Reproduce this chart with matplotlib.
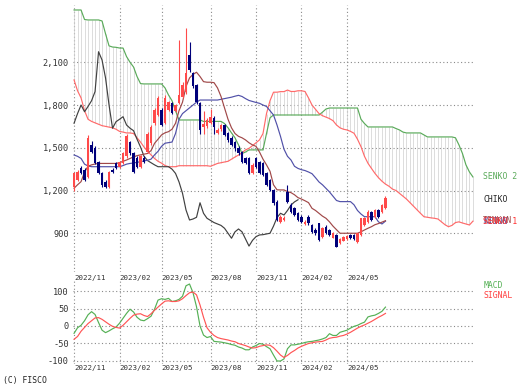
import numpy as np
import matplotlib
matplotlib.use("Agg")
import matplotlib.pyplot as plt

# weekly candles (index 0 = first week of 2022/11)
opens = [1225, 1274, 1357, 1344, 1295, 1520, 1500, 1400, 1322, 1260,
         1225, 1345, 1390, 1367, 1390, 1440, 1540, 1460, 1430, 1367,
         1430, 1470, 1530, 1674, 1730, 1765, 1674, 1765, 1814, 1760,
         1814, 1857, 1890, 2150, 2025, 1940, 1814, 1645, 1650, 1674,
         1710, 1604, 1630, 1660, 1604, 1570, 1543, 1500, 1472, 1428,
         1428, 1322, 1428, 1402, 1393, 1322, 1274, 1204, 1122, 981,
         990, 1192, 1098, 1075, 1040, 1016, 965, 1016, 958, 925,
         970, 876, 946, 923, 870, 886, 830, 848, 858, 888,
         888, 842, 888, 958, 981, 1051, 1016, 1063, 1051, 1075]
closes = [1322, 1332, 1323, 1274, 1570, 1470, 1390, 1322, 1237, 1225,
          1330, 1330, 1357, 1400, 1460, 1580, 1460, 1330, 1367, 1440,
          1400, 1600, 1645, 1765, 1850, 1660, 1850, 1820, 1743, 1800,
          1870, 1940, 2025, 2045, 1930, 1820, 1625, 1670, 1695, 1715,
          1645, 1625, 1660, 1590, 1555, 1519, 1496, 1460, 1402, 1393,
          1322, 1380, 1367, 1322, 1309, 1237, 1204, 1110, 993, 1016,
          1010, 1122, 1051, 1028, 993, 981, 981, 970, 911, 900,
          853, 935, 900, 888, 905, 806, 858, 872, 881, 865,
          858, 900, 1005, 1005, 1051, 993, 1063, 1016, 1098, 1145]
highs = [1330, 1345, 1370, 1355, 1590, 1545, 1510, 1410, 1330, 1275,
         1340, 1355, 1400, 1410, 1470, 1600, 1550, 1470, 1440, 1450,
         1440, 1610, 1660, 1780, 1860, 1780, 1870, 1830, 1820, 1810,
         2256, 1960, 2340, 2245, 2035, 1950, 1820, 1760, 1710, 1775,
         1720, 1640, 1670, 1670, 1610, 1580, 1550, 1510, 1480, 1435,
         1435, 1390, 1435, 1410, 1400, 1330, 1280, 1210, 1130, 1025,
         1020, 1240, 1110, 1085, 1050, 1025, 990, 1025, 965, 935,
         975, 945, 955, 930, 910, 895, 865, 880, 888, 895,
         892, 905, 1010, 1012, 1060, 1058, 1070, 1070, 1105, 1162]
lows = [1200, 1265, 1315, 1265, 1285, 1460, 1385, 1315, 1225, 1215,
        1215, 1320, 1350, 1360, 1385, 1430, 1450, 1320, 1360, 1360,
        1395, 1460, 1520, 1660, 1720, 1650, 1665, 1760, 1735, 1750,
        1805, 1850, 1880, 2030, 1920, 1810, 1600, 1600, 1640, 1665,
        1600, 1595, 1620, 1580, 1540, 1510, 1480, 1450, 1395, 1385,
        1315, 1315, 1360, 1315, 1300, 1230, 1195, 1100, 985, 975,
        985, 1110, 1045, 1020, 985, 975, 960, 960, 905, 890,
        845, 870, 895, 880, 865, 800, 825, 845, 855, 860,
        852, 835, 880, 950, 975, 985, 1010, 1010, 1045, 1070]

tenkan = [1216, 1240, 1262, 1330, 1370, 1380, 1386, 1390, 1390, 1390,
          1390, 1390, 1390, 1395, 1405, 1414, 1425, 1435, 1445, 1450,
          1455, 1460, 1480, 1531, 1560, 1590, 1605, 1613, 1630, 1672,
          1760, 1820, 1930, 1990, 2015, 2030, 2000, 1964, 1960, 1960,
          1957, 1920, 1860, 1780, 1700, 1640, 1600, 1580, 1570, 1555,
          1535, 1520, 1510, 1470, 1420, 1380, 1335, 1240, 1205, 1204,
          1204, 1192, 1185, 1170, 1150, 1140, 1128, 1115, 1075, 1060,
          1040, 1020, 1005, 980, 950, 925, 900, 900, 900, 900,
          900, 900, 910, 923, 935, 946, 960, 968, 978, 988]
kijun = [1449, 1440, 1425, 1385, 1372, 1367, 1367, 1367, 1367, 1367,
         1367, 1367, 1367, 1367, 1375, 1385, 1390, 1393, 1398, 1402,
         1408, 1412, 1420, 1450, 1475, 1510, 1532, 1536, 1540, 1600,
         1700, 1740, 1760, 1780, 1800, 1820, 1835, 1835, 1835, 1835,
         1835, 1835, 1840, 1845, 1850, 1855, 1862, 1868, 1860, 1845,
         1832, 1825, 1818, 1812, 1800, 1790, 1760, 1730, 1660, 1580,
         1490, 1440, 1414, 1370, 1355, 1346, 1340, 1330, 1318, 1290,
         1260, 1240, 1215, 1190, 1160, 1130, 1122, 1122, 1122, 1122,
         1100, 1060, 1035, 1016, 1016, 1016, 1016, 980, 965, 985]
senko1 = [1976, 1900, 1850, 1760, 1700, 1685, 1675, 1665, 1655, 1650,
          1645, 1640, 1630, 1615, 1610, 1604, 1604, 1600, 1570, 1540,
          1505, 1475, 1450, 1425, 1405, 1392, 1375, 1367, 1367, 1367,
          1374, 1374, 1374, 1374, 1374, 1374, 1374, 1374, 1374, 1370,
          1380, 1390, 1395, 1400, 1405, 1420, 1435, 1449, 1465, 1485,
          1496, 1515, 1535, 1555, 1600, 1740, 1830, 1890, 1890, 1894,
          1894, 1905, 1895, 1895, 1900, 1900, 1895, 1850, 1800, 1770,
          1740, 1725, 1715, 1705, 1690, 1660, 1640, 1630, 1625, 1615,
          1602, 1560, 1508, 1440, 1391, 1355, 1320, 1290, 1265, 1245,
          1230, 1210, 1200, 1180, 1160, 1140, 1115, 1090, 1065, 1040,
          1016, 1012, 1008, 1005, 1000, 980, 960, 946, 955, 975,
          980, 972, 965, 958, 985]
senko2 = [2467, 2467, 2467, 2400, 2397, 2397, 2397, 2397, 2390, 2300,
          2215, 2207, 2205, 2200, 2200, 2140, 2100, 2067, 2000, 1950,
          1948, 1948, 1948, 1948, 1948, 1948, 1920, 1870, 1830, 1760,
          1695, 1695, 1695, 1695, 1695, 1695, 1695, 1685, 1685, 1685,
          1685, 1685, 1685, 1670, 1640, 1604, 1570, 1520, 1460, 1470,
          1485, 1485, 1485, 1485, 1485, 1600, 1710, 1730, 1730, 1730,
          1730, 1730, 1730, 1730, 1730, 1730, 1730, 1730, 1730, 1730,
          1730, 1750, 1772, 1779, 1779, 1779, 1779, 1779, 1779, 1779,
          1779, 1779, 1700, 1670, 1646, 1646, 1646, 1646, 1646, 1646,
          1646, 1646, 1635, 1625, 1610, 1604, 1604, 1604, 1604, 1604,
          1590, 1576, 1576, 1576, 1576, 1576, 1576, 1576, 1576, 1570,
          1520, 1460, 1380, 1330, 1295]
chiko = [1672, 1740, 1800, 1753, 1790, 1830, 1894, 2174, 2116, 1990,
         1800, 1637, 1683, 1700, 1718, 1660, 1637, 1620, 1560, 1505,
         1440, 1410, 1395, 1380, 1367, 1367, 1367, 1367, 1350, 1320,
         1260, 1180, 1063, 993, 1000, 1012, 1114, 1040, 1005, 990,
         975, 965, 955, 935, 900, 865, 910, 930, 910, 860,
         810, 850, 876, 888, 890, 895, 900, 950, 1010, 1040,
         1028, 1060, 1098, 1120, 1135]

macd = [-21, -5, 2, 15, 32, 41, 33, 10, -12, -19,
        -14, -8, -3, 8, 22, 36, 48, 40, 25, 17,
        15, 21, 28, 48, 74, 78, 76, 79, 70, 72,
        76, 85, 115, 120, 95, 55, 0, -26, -33, -30,
        -44, -45, -46, -48, -50, -53, -55, -60, -63, -68,
        -68, -60, -56, -50, -52, -59, -65, -83, -100, -100,
        -94, -65, -54, -54, -52, -50, -47, -45, -44, -42,
        -40, -37, -33, -22, -27, -27, -18, -15, -12, -6,
        -1, 2, 7, 11, 26, 29, 31, 36, 42, 54]
signal = [-38, -30, -15, -4, 7, 15, 23, 24, 19, 12,
          5, -1, -4, -6, 2, 12, 22, 31, 34, 35,
          30, 27, 35, 45, 54, 63, 71, 72, 70, 70,
          72, 78, 87, 95, 97, 89, 60, 25, -5, -18,
          -27, -33, -36, -38, -40, -43, -45, -50, -53, -56,
          -60, -63, -62, -58, -56, -54, -55, -62, -72, -83,
          -90, -84, -76, -70, -63, -58, -54, -50, -48, -46,
          -45, -44, -40, -35, -33, -32, -29, -27, -23, -18,
          -12, -6, -1, 3, 8, 13, 19, 25, 30, 36]

date_labels = ["2022/11", "2023/02", "2023/05", "2023/08", "2023/11", "2024/02", "2024/05"]
date_weeks = [0, 13, 25, 39, 52, 65, 78]
price_ticks = [900, 1200, 1500, 1800, 2100]
macd_ticks = [-100, -50, 0, 50, 100]

UP = "#ff4a4a"
DOWN = "#00007a"
C_SENKO1 = "#ff6a6a"
C_SENKO2 = "#5aaa5a"
C_KIJUN = "#5050a8"
C_TENKAN = "#a04848"
C_CHIKO = "#404040"
GRID = "#8a8a8a"
TXT = "#333333"
LW = 0.85

plt.rcParams["font.family"] = "DejaVu Sans Mono"

W, H = 527, 392
fig = plt.figure(figsize=(W / 100, H / 100), dpi=100)
fig.patch.set_facecolor("white")

XMIN, XMAX = -0.3, 114.3
PMIN, PMAX = 628, 2502
ax = fig.add_axes([73 / W, 1 - 272 / H, 401 / W, 267 / H])
ax2 = fig.add_axes([73 / W, 1 - 364 / H, 401 / W, 83 / H])


def _style(a, yticks, fmt):
    a.set_xlim(XMIN, XMAX)
    for s in a.spines.values():
        s.set_visible(False)
    a.set_xticks([])
    a.set_yticks(yticks)
    a.set_yticklabels([fmt(v) for v in yticks], fontsize=6.2, color=TXT)
    a.tick_params(axis="y", length=0, pad=3)
    for v in yticks:
        a.axhline(v, color=GRID, lw=0.8, ls=(0, (1, 2.2)), zorder=0)
    for w in date_weeks:
        a.axvline(w, color=GRID, lw=0.8, ls=(0, (1, 2.2)), zorder=0)
    for w, lab in zip(date_weeks, date_labels):
        a.text(w, -0.012, lab, transform=a.get_xaxis_transform(), fontsize=5.4,
               ha="left", va="top", color=TXT)


def _label(a, yfrac, text, color):
    a.text(1.023, yfrac, text, color=color, transform=a.transAxes,
           fontsize=5.9, va="center", ha="left")


# main ichimoku panel
ax.set_ylim(PMIN, PMAX)
_style(ax, price_ticks, lambda v: f"{v:,}")

xc = np.arange(len(senko1))
ax.vlines(xc, np.minimum(senko1, senko2), np.maximum(senko1, senko2),
          color="#cfcfcf", lw=0.5, zorder=1)
ax.plot(xc, senko2, color=C_SENKO2, lw=LW, zorder=3)
ax.plot(xc, senko1, color=C_SENKO1, lw=LW, zorder=3)

xk = np.arange(len(closes))
ax.plot(np.arange(len(chiko)), chiko, color=C_CHIKO, lw=LW, zorder=3)
ax.plot(xk, kijun, color=C_KIJUN, lw=LW, zorder=4)
ax.plot(xk, tenkan, color=C_TENKAN, lw=LW, zorder=4)

o = np.array(opens)
c = np.array(closes)
cols = [UP if cc >= oo else DOWN for oo, cc in zip(o, c)]
ax.vlines(xk, lows, highs, colors=cols, lw=0.8, zorder=5)
body = np.where(np.abs(c - o) < 8, 8, np.abs(c - o))
ax.bar(xk, body, bottom=np.minimum(o, c), width=0.75, color=cols, lw=0, zorder=6)

# right-side labels sit at each line's last value (they overlap, as in the source)
ly = lambda v: (v - PMIN) / (PMAX - PMIN)
_label(ax, ly(senko2[-1]), "SENKO 2", C_SENKO2)
_label(ax, ly(chiko[-1]), "CHIKO", "#222222")
_label(ax, ly(tenkan[-1]), "TENKAN", C_TENKAN)
_label(ax, ly(kijun[-1]), "KIJUN", C_KIJUN)
_label(ax, ly(senko1[-1]), "SENKO 1", "#ff3030")

# MACD panel
ax2.set_ylim(-108.6, 128.6)
_style(ax2, macd_ticks, lambda v: f"{v}")
ax2.plot(xk, macd, color="#55b055", lw=LW, zorder=3)
ax2.plot(xk, signal, color="#ff5555", lw=LW, zorder=3)
_label(ax2, 0.95, "MACD", "#55b055")
_label(ax2, 0.83, "SIGNAL", "#ff4040")

fig.text(3 / W, 1 - 381 / H, "(C) FISCO", fontsize=5.9, color="#222222",
         ha="left", va="center")

fig.savefig("out.png", dpi=100, facecolor="white")
plt.close(fig)
